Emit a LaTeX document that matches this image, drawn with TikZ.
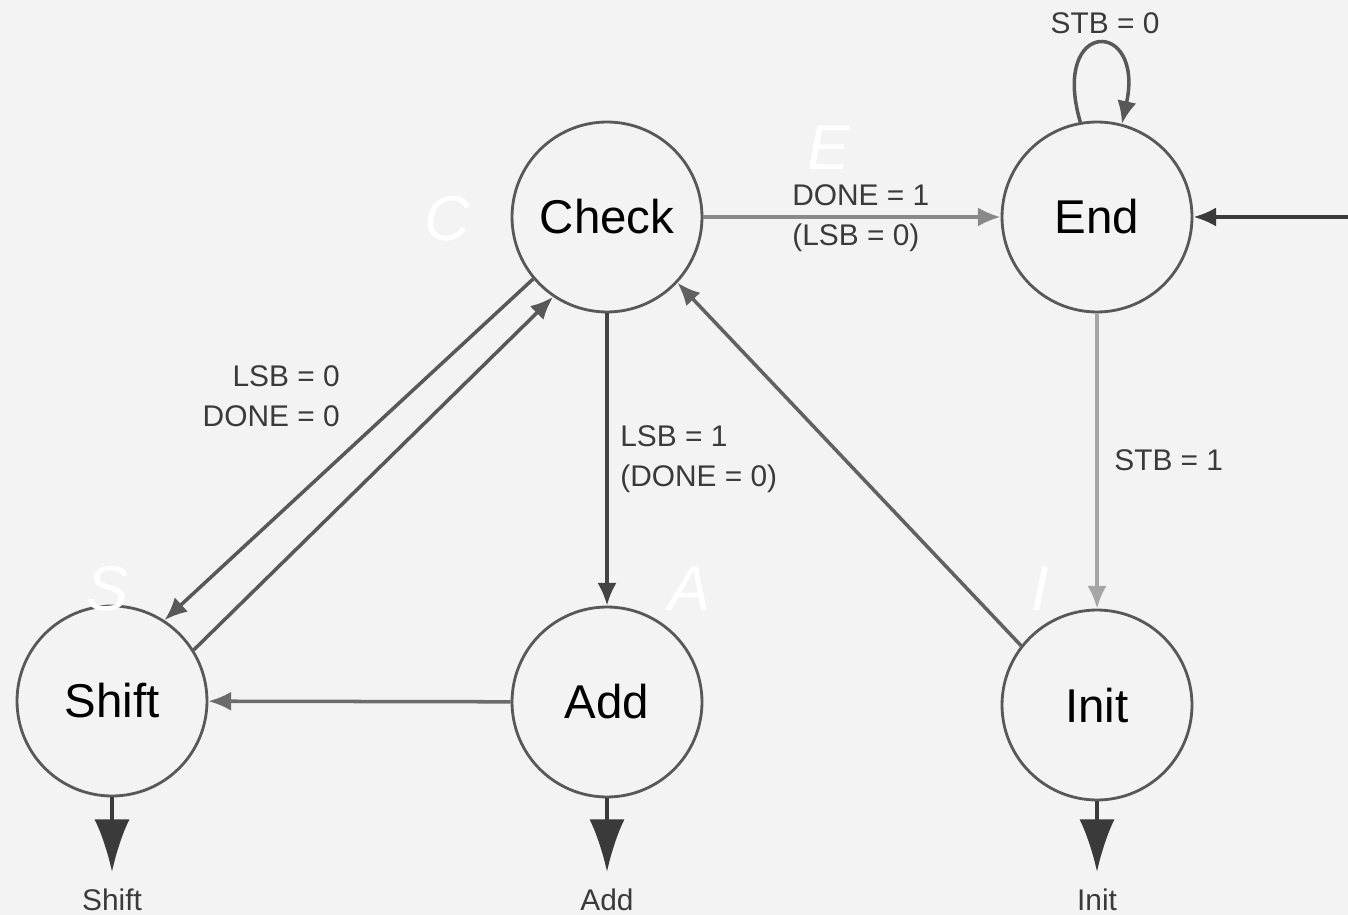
\documentclass[tikz,border=0pt]{standalone}
\usepackage{fontspec}
\setmainfont{Liberation Sans}
\usetikzlibrary{arrows.meta}
\definecolor{paper}{HTML}{F3F3F3}
\definecolor{ink}{HTML}{3A3A3A}
\tikzset{
  statebox/.style={circle, draw=ink!85, line width=1.6pt, fill=paper,
    minimum size=3.8cm, inner sep=0pt, font=\fontsize{27}{30}\selectfont},
  edge/.style={line width=2pt, draw=#1, -{Latex[length=13pt,width=11pt]}},
  edge/.default=ink,
  outarrow/.style={line width=2.2pt, draw=ink, -{Latex[length=30pt,width=20pt]}},
  cond/.style={font=\fontsize{17}{23}\selectfont, text=ink, inner sep=0pt},
  outlabel/.style={font=\fontsize{17}{20}\selectfont, text=ink},
  mark letter/.style={font=\fontsize{36}{40}\selectfont\itshape, text=white, inner sep=0pt}
}
\begin{document}
\begin{tikzpicture}[x=0.02cm, y=-0.02cm]
  % page and background
  \fill[paper] (0,0) rectangle (1348,915);
  \useasboundingbox (0,0) rectangle (1348,915);

  % states
  \node[statebox] (check) at (607,217) {Check};
  \node[statebox] (end)   at (1097,217) {End};
  \node[statebox] (shift) at (112,701) {Shift};
  \node[statebox] (add)   at (607,702) {Add};
  \node[statebox] (init)  at (1097,705) {Init};

  % transitions
  \draw[edge=ink!60] (check) -- (end);
  \draw[edge=ink!85] (end.100) .. controls (1050,18) and (1145,18) .. (end.75);
  \coordinate (reset) at (1348,217);
  \draw[edge=ink] (reset) -- (end);
  \draw[edge=ink!45] (end) -- (init);
  \draw[edge=ink!80] (init.142) -- (check.317);
  \draw[edge=ink!95] (check) -- (add);
  \draw[edge=ink!75] (add) -- (shift);
  \draw[edge=ink!85] (check.220) -- (shift.57);
  \draw[edge=ink!85] (shift.32) -- (check.236);

  % outputs
  \coordinate (oshift) at (112,872);
  \coordinate (oadd)   at (607,872);
  \coordinate (oinit)  at (1097,872);
  \draw[outarrow] (shift) -- (oshift);
  \draw[outarrow] (add) -- (oadd);
  \draw[outarrow] (init) -- (oinit);
  \node[outlabel] (lshift) at (112,900) {Shift};
  \node[outlabel] (ladd)   at (607,900) {Add};
  \node[outlabel] (linit)  at (1097,900) {Init};

  % transition conditions
  \node[cond] (c-loop) at (1105,23) {STB = 0};
  \node[cond, anchor=west, align=left] (c-done) at (792,218) {DONE = 1\\(LSB = 0)};
  \node[cond, anchor=west] (c-stb) at (1114,460) {STB = 1};
  \node[cond, anchor=west, align=left] (c-lsb1) at (620,459) {LSB = 1\\(DONE = 0)};
  \node[cond, anchor=east, align=right] (c-lsb0) at (340,396) {LSB = 0\\DONE = 0};

  % state letters
  \node[mark letter] (mc) at (447,219) {C};
  \node[mark letter] (me) at (829,148) {E};
  \node[mark letter] (ms) at (108,589) {S};
  \node[mark letter] (ma) at (690,589) {A};
  \node[mark letter] (mi) at (1040,589) {I};
\end{tikzpicture}
\end{document}
